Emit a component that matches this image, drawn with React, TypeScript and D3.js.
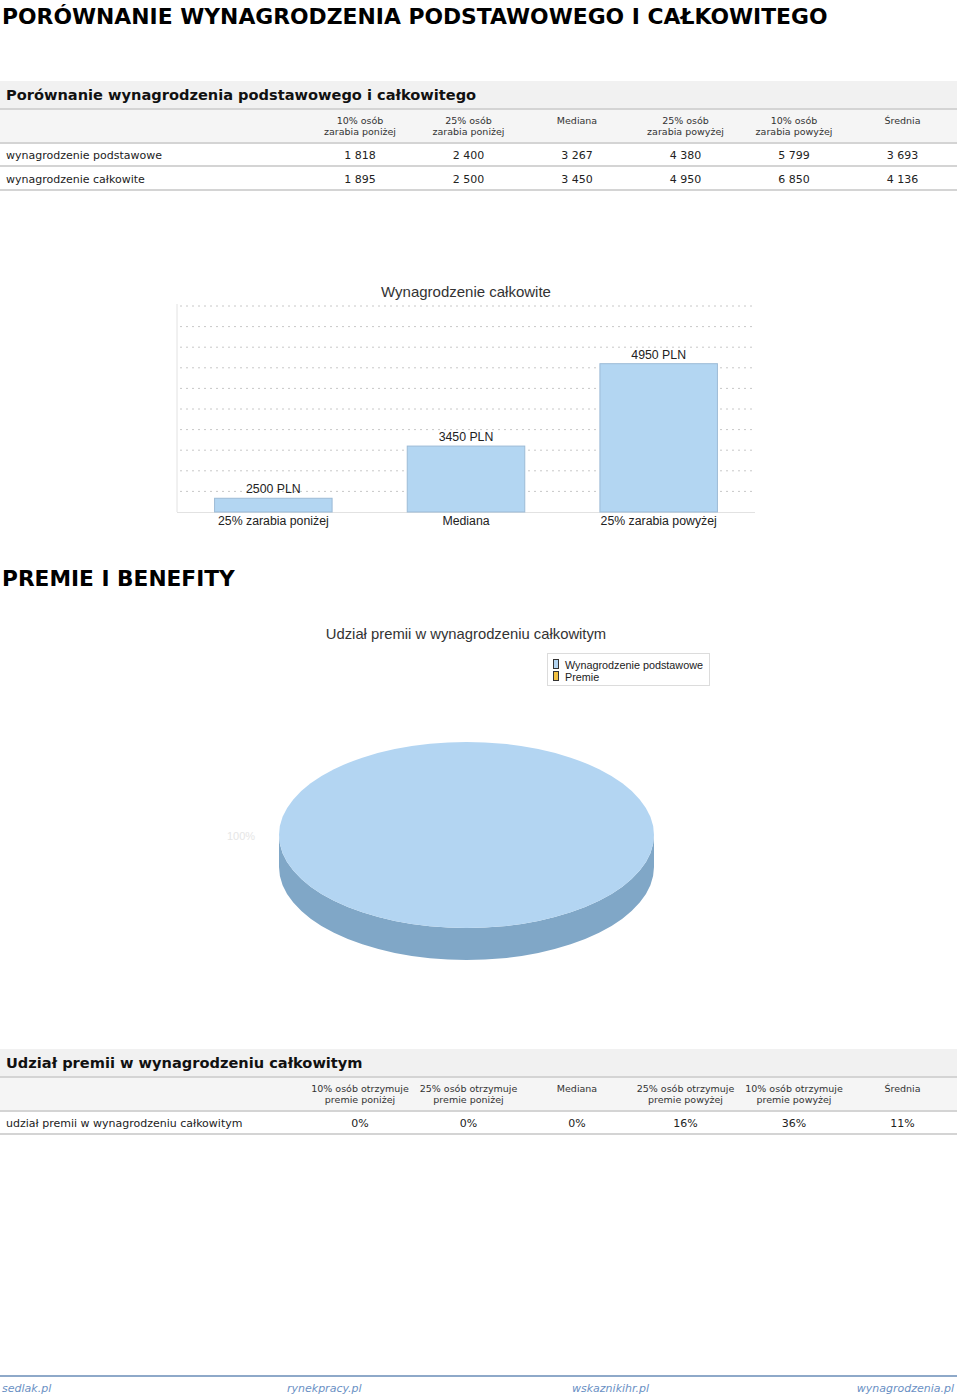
import React from "react";
import * as d3 from "d3";

// ---------- data ----------
const table1Columns = [
  ["10% osób", "zarabia poniżej"],
  ["25% osób", "zarabia poniżej"],
  ["Mediana", ""],
  ["25% osób", "zarabia powyżej"],
  ["10% osób", "zarabia powyżej"],
  ["Średnia", ""],
];
const table1RowLabels = ["wynagrodzenie podstawowe", "wynagrodzenie całkowite"];
const basicSalary = [1818, 2400, 3267, 4380, 5799, 3693];
const totalSalary = [1895, 2500, 3450, 4950, 6850, 4136];

const barCategories = ["25% zarabia poniżej", "Mediana", "25% zarabia powyżej"];
const barValues = [2500, 3450, 4950];
const barDomain = [2250, 6000];
const gridCount = 10;

const pieLabels = ["Wynagrodzenie podstawowe", "Premie"];
const pieValues = [100, 0];
const pieColors = ["#b3d5f2", "#f2c141"];

const table2Columns = [
  ["10% osób otrzymuje", "premie poniżej"],
  ["25% osób otrzymuje", "premie poniżej"],
  ["Mediana", ""],
  ["25% osób otrzymuje", "premie powyżej"],
  ["10% osób otrzymuje", "premie powyżej"],
  ["Średnia", ""],
];
const table2RowLabel = "udział premii w wynagrodzeniu całkowitym";
const bonusShare = ["0%", "0%", "0%", "16%", "36%", "11%"];

const footerLinks = ["sedlak.pl", "rynekpracy.pl", "wskaznikihr.pl", "wynagrodzenia.pl"];

// ---------- helpers ----------
const W = 960;
const H = 1397;
const TFONT = "'DejaVu Sans', sans-serif";
const CFONT = "'Liberation Sans', Arial, sans-serif";
const fmt = (v: number) => {
  const s = String(v);
  return s.length > 3 ? s.slice(0, s.length - 3) + " " + s.slice(-3) : s;
};
const colX = d3.scalePoint<number>().domain([0, 1, 2, 3, 4, 5]).range([360, 902.5]);

function Table({ top, title, columns, rows }: { top: number; title: string; columns: string[][]; rows: { label: string; values: string[] }[] }) {
  const bandTop = top;
  const headTop = top + 29;
  const rowH = 24;
  const dataTop = headTop + 33;
  return (
    <g>
      <rect x={0} y={bandTop} width={957} height={28} fill="#f1f1f1" />
      <text x={6} y={bandTop + 19} fontFamily={TFONT} fontWeight="bold" fontSize={14.6} fill="#111">{title}</text>
      <rect x={0} y={bandTop + 27} width={957} height={2} fill="#d4d4d4" />
      <rect x={0} y={headTop} width={957} height={32} fill="#f5f5f5" />
      {columns.map((c, i) => (
        <text key={i} x={colX(i)} textAnchor="middle" fontFamily={TFONT} fontSize={9.5} fill="#333">
          <tspan x={colX(i)} y={headTop + 14}>{c[0]}</tspan>
          <tspan x={colX(i)} y={headTop + 25}>{c[1]}</tspan>
        </text>
      ))}
      <rect x={0} y={headTop + 32} width={957} height={2} fill="#d4d4d4" />
      {rows.map((r, ri) => (
        <g key={ri}>
          <text x={6} y={dataTop + ri * rowH + 15.5} fontFamily={TFONT} fontSize={11} fill="#222">{r.label}</text>
          {r.values.map((v, i) => (
            <text key={i} x={colX(i)} y={dataTop + ri * rowH + 15.5} textAnchor="middle" fontFamily={TFONT} fontSize={11} fill="#222">{v}</text>
          ))}
          <rect x={0} y={dataTop + ri * rowH + 22} width={957} height={2} fill="#d4d4d4" />
        </g>
      ))}
    </g>
  );
}

function BarChart() {
  const left = 177, right = 755, top = 306, bottom = 512;
  const x = d3.scaleBand<string>().domain(barCategories).range([left, right]).paddingInner(0.39).paddingOuter(0.195);
  const y = d3.scaleLinear().domain(barDomain).range([bottom, top]);
  const grid = d3.range(1, gridCount + 1).map((i) => barDomain[0] + ((barDomain[1] - barDomain[0]) * i) / gridCount);
  return (
    <g>
      <text x={466} y={297} textAnchor="middle" fontFamily={CFONT} fontSize={15} fill="#333">Wynagrodzenie całkowite</text>
      {grid.map((g, i) => (
        <line key={i} x1={left + 3} x2={right} y1={y(g)} y2={y(g)} stroke="#c8c8c8" strokeWidth={1} strokeDasharray="2,4" />
      ))}
      <line x1={left} x2={left} y1={top - 2} y2={bottom} stroke="#e2e2e2" />
      <line x1={left} x2={right} y1={bottom + 0.5} y2={bottom + 0.5} stroke="#e2e2e2" />
      {barValues.map((v, i) => (
        <g key={i}>
          <rect x={x(barCategories[i])!} y={y(v)} width={x.bandwidth()} height={bottom - y(v)} fill="#b3d6f2" stroke="#9dbbd6" strokeWidth={1} />
          <text x={x(barCategories[i])! + x.bandwidth() / 2} y={y(v) - 5} textAnchor="middle" fontFamily={CFONT} fontSize={12.3} fill="#222">{v} PLN</text>
          <text x={x(barCategories[i])! + x.bandwidth() / 2} y={525} textAnchor="middle" fontFamily={CFONT} fontSize={12.3} fill="#222">{barCategories[i]}</text>
        </g>
      ))}
    </g>
  );
}

function PieChart() {
  const cx = 466.5, cy = 835, rx = 187.5, ry = 93, depth = 32;
  const pie = d3.pie<number>().sort(null).startAngle(Math.PI / 2).endAngle(Math.PI / 2 + 2 * Math.PI)(pieValues);
  const arc = d3.arc<d3.PieArcDatum<number>>().innerRadius(0).outerRadius(rx);
  const side = `M${cx - rx},${cy} A${rx},${ry} 0 0 0 ${cx + rx},${cy} L${cx + rx},${cy + depth} A${rx},${ry} 0 0 1 ${cx - rx},${cy + depth} Z`;
  const total = d3.sum(pieValues);
  return (
    <g>
      <text x={466} y={639} textAnchor="middle" fontFamily={CFONT} fontSize={14.8} fill="#333">Udział premii w wynagrodzeniu całkowitym</text>
      <rect x={547.5} y={653.5} width={162} height={32} fill="#fff" stroke="#dcdcdc" />
      {pieLabels.map((l, i) => (
        <g key={i}>
          <rect x={553.5} y={659.5 + i * 12} width={5} height={9} fill={pieColors[i]} stroke="#333" strokeWidth={1} />
          <text x={565} y={669 + i * 12} fontFamily={CFONT} fontSize={10.8} fill="#222">{l}</text>
        </g>
      ))}
      <path d={side} fill="#80a7c7" />
      <g transform={`translate(${cx},${cy}) scale(1,${ry / rx})`}>
        {pie.map((p, i) => (p.value > 0 ? <path key={i} d={arc(p)!} fill={pieColors[i]} /> : null))}
      </g>
      {pie.map((p, i) =>
        p.value > 0 ? (
          <text key={i} x={241} y={840} textAnchor="middle" fontFamily={CFONT} fontSize={11} fill="#e6e6e6">{Math.round((p.value / total) * 100)}%</text>
        ) : null
      )}
    </g>
  );
}

export default function App() {
  return (
    <div style={{ position: "absolute", left: 0, top: 0, width: W, height: H, background: "#fff" }}>
      <svg width={W} height={H} style={{ display: "block" }}>
        <rect width={W} height={H} fill="#fff" />
        <text x={2} y={24} fontFamily={TFONT} fontWeight="bold" fontSize={21.85} fill="#000">PORÓWNANIE WYNAGRODZENIA PODSTAWOWEGO I CAŁKOWITEGO</text>
        <Table
          top={81}
          title="Porównanie wynagrodzenia podstawowego i całkowitego"
          columns={table1Columns}
          rows={[
            { label: table1RowLabels[0], values: basicSalary.map(fmt) },
            { label: table1RowLabels[1], values: totalSalary.map(fmt) },
          ]}
        />
        <BarChart />
        <text x={2} y={586} fontFamily={TFONT} fontWeight="bold" fontSize={21.7} fill="#000">PREMIE I BENEFITY</text>
        <PieChart />
        <Table
          top={1049}
          title="Udział premii w wynagrodzeniu całkowitym"
          columns={table2Columns}
          rows={[{ label: table2RowLabel, values: bonusShare }]}
        />
        <rect x={0} y={1375} width={957} height={2} fill="#8ea9c9" />
        {footerLinks.map((l, i) => (
          <text key={i} x={i === 3 ? 954 : 2 + i * 285} y={1392} textAnchor={i === 3 ? "end" : "start"} fontFamily={TFONT} fontStyle="italic" fontSize={11} fill="#6a90c4">{l}</text>
        ))}
      </svg>
    </div>
  );
}
